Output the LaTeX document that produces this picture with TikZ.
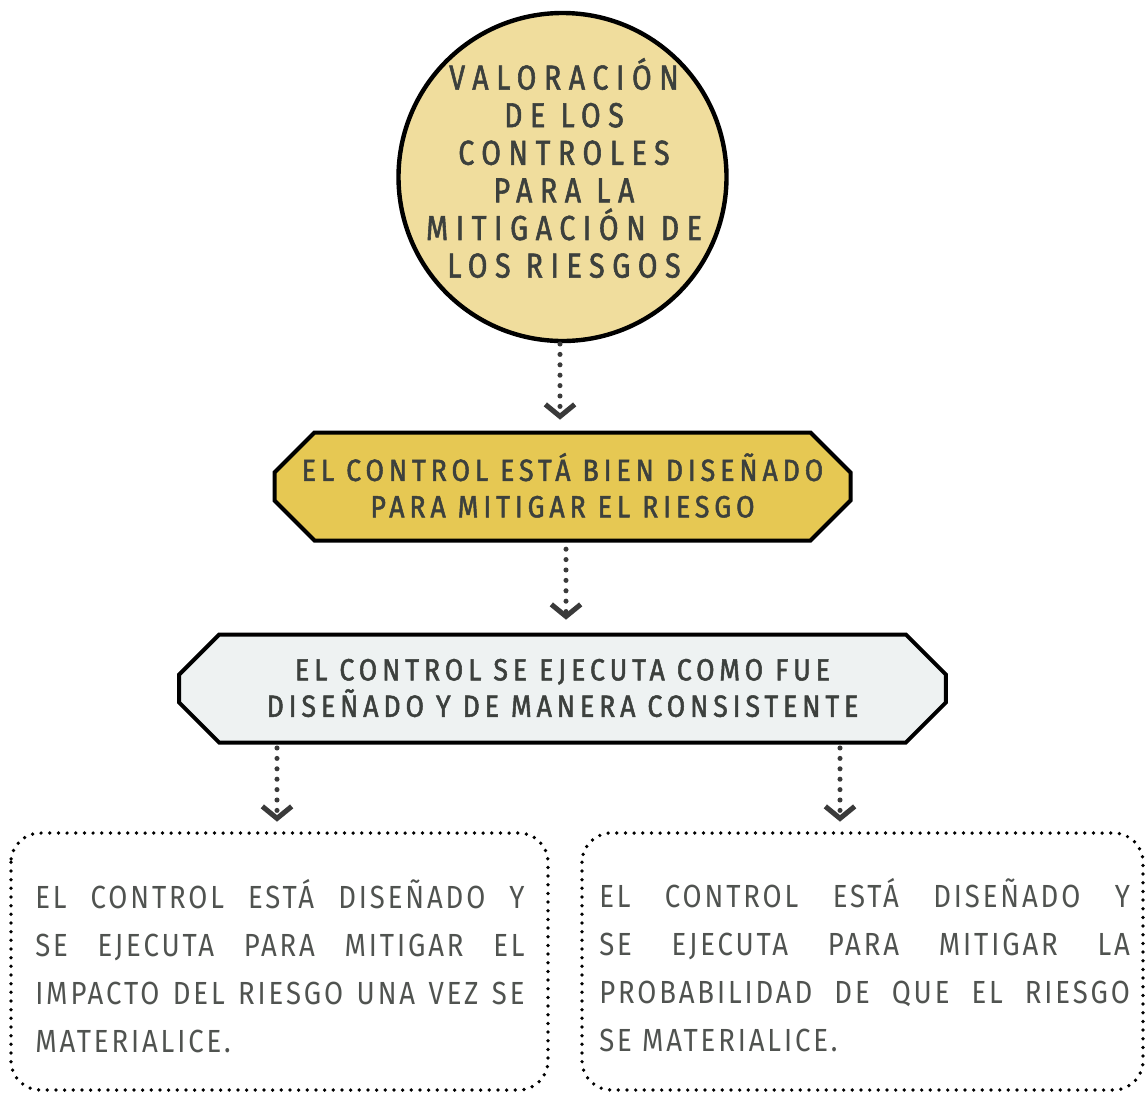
\documentclass[tikz,border=0pt]{standalone}
\usepackage{fontspec}
\setmainfont{Fira Sans}
\usetikzlibrary{shapes.misc,arrows.meta}
\hyphenpenalty=10000
\exhyphenpenalty=10000
\definecolor{txt}{HTML}{3C403D}
\definecolor{circfill}{HTML}{F0DD9D}
\definecolor{goldfill}{HTML}{E6C853}
\definecolor{greyfill}{HTML}{EEF2F2}
\definecolor{conn}{HTML}{3A3A3A}
\tikzset{
  circletext/.style={inner sep=0pt, align=center, text=txt,
    font=\fontsize{26}{28.2}\selectfont\addfontfeature{FakeStretch=0.82,FakeBold=1.6,LetterSpace=22}},
  octbox/.style={chamfered rectangle, chamfered rectangle xsep=15pt, chamfered rectangle ysep=15pt,
    draw=black, line width=3pt, inner sep=0pt, align=center, text=txt,
    font=\fontsize{23}{27.3}\selectfont\addfontfeature{FakeStretch=0.87,FakeBold=1.6,LetterSpace=16}},
  dotbox/.style={draw=black, line width=2.8pt, dash pattern=on 0pt off 6.5pt, line cap=round, rounded corners=22pt},
  bodytext/.style={text width=#1, align=justify, inner sep=0pt, text=txt!90,
    font=\fontsize{24}{36}\selectfont\addfontfeature{FakeStretch=0.86,LetterSpace=9}},
  arr/.style={draw=conn, line width=3.8pt, dash pattern=on 0pt off 7.8pt, line cap=round,
    -{Straight Barb[length=9pt,width=22pt,line width=3.8pt]}, shorten >=-2pt}
}
\begin{document}
\begin{tikzpicture}[x=0.75pt,y=-0.75pt]
\useasboundingbox (0,0) rectangle (1145,1093);
\draw[line width=3.3pt, fill=circfill] (562.5,177) circle (123pt);
\node[circletext] (c) at (564,168) {VALORACIÓN\\DE LOS\\CONTROLES\\PARA LA\\MITIGACIÓN DE\\LOS RIESGOS};
\coordinate (c0) at (560,344);
\node[octbox, fill=goldfill, minimum width=432pt, minimum height=81pt] (b2) at (562.5,486.5)
  {\raisebox{2pt}{EL CONTROL ESTÁ BIEN DISEÑADO}\\\raisebox{2pt}{PARA MITIGAR EL RIESGO}};
\node[octbox, fill=greyfill, minimum width=575pt, minimum height=81pt] (b3) at (562.5,688.5)
  {\raisebox{1pt}{EL CONTROL SE EJECUTA COMO FUE}\\\raisebox{1pt}{DISEÑADO Y DE MANERA CONSISTENTE}};
\draw[dotbox] (11,833) rectangle (548,1090);
\draw[dotbox] (582,833) rectangle (1143,1090);
\node[bodytext=367pt, anchor=north west] (t1) at (35,879)
  {EL CONTROL ESTÁ DISEÑADO Y\linebreak SE EJECUTA PARA MITIGAR EL\linebreak IMPACTO DEL RIESGO UNA VEZ SE\linebreak MATERIALICE.};
\node[bodytext=398pt, anchor=north west] (t2) at (599,878)
  {EL CONTROL ESTÁ DISEÑADO Y\linebreak SE EJECUTA PARA MITIGAR LA\linebreak PROBABILIDAD DE QUE EL RIESGO\linebreak SE MATERIALICE.};
\coordinate (s1) at (277,748);
\coordinate (s2) at (840,748);
\coordinate (e1) at (277,819);
\coordinate (e2) at (840,819);
\coordinate (e0) at (560,417);
\coordinate (e02) at (566,617);
\draw[arr] (c0) -- (e0);
\draw[arr] ([yshift=-5pt]b2.south -| e02) -- (e02);
\draw[arr] (s1) -- (e1);
\draw[arr] (s2) -- (e2);
\end{tikzpicture}
\end{document}
